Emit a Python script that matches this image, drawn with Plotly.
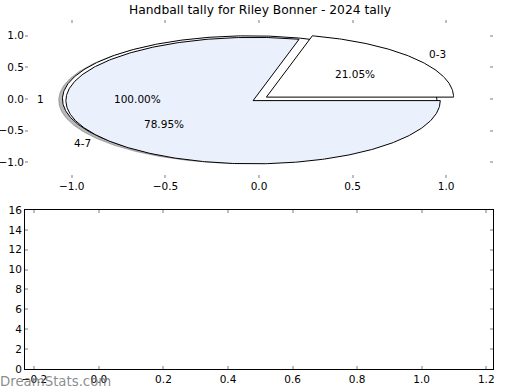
import numpy as np
import plotly.graph_objects as go

# ---- data ----
title_text = "Handball tally for Riley Bonner - 2024 tally"
total_labels = ["1"]
total_values = [1]
group_labels = ["0-3", "4-7"]
group_values = [4, 15]
bar_categories = []
bar_values = []
pie_ticks = [-1.0, -0.5, 0.0, 0.5, 1.0]
bottom_xticks = [-0.2, 0.0, 0.2, 0.4, 0.6, 0.8, 1.0, 1.2]
bottom_yticks = [0, 2, 4, 6, 8, 10, 12, 14, 16]
watermark = "DreamStats.com"

# ---- styles ----
total_explode = [0.05]
group_explode = [0.05, 0.04]
total_colors = ["white"]
group_colors = ["white", "rgb(234,240,252)"]
FONT = "DejaVu Sans"
TICKC = "#bdbdbd"

fig = go.Figure()
annotations = []


def arc_pts(cx, cy, r, t1, t2, n):
    th = np.radians(np.linspace(t1, t2, n))
    return cx + r * np.cos(th), cy + r * np.sin(th)


def draw_pie(values, labels, explode, colors, shadow=False):
    vals = np.array(values, dtype=float)
    fr = vals / vals.sum()
    theta1 = 0.0
    for f, lab, ex, col in zip(fr, labels, explode, colors):
        theta2 = theta1 + 360.0 * f
        mid = np.radians((theta1 + theta2) / 2)
        cx, cy = ex * np.cos(mid), ex * np.sin(mid)
        n = max(int(abs(theta2 - theta1) * 1.5), 20)
        ax_, ay_ = arc_pts(cx, cy, 1.0, theta1, theta2, n)
        if f >= 0.9999:
            xs, ys = list(ax_), list(ay_)
        else:
            xs = [cx] + list(ax_) + [cx]
            ys = [cy] + list(ay_) + [cy]
        if shadow:
            fig.add_trace(go.Scatter(
                x=[v - 0.02 for v in xs], y=[v - 0.02 for v in ys],
                mode="lines", fill="toself", fillcolor="rgba(77,77,77,0.4)",
                line=dict(color="rgba(77,77,77,0.4)", width=1),
                hoverinfo="skip", showlegend=False, xaxis="x", yaxis="y"))
        fig.add_trace(go.Scatter(
            x=xs, y=ys, mode="lines", fill="toself", fillcolor=col,
            line=dict(color="black", width=1), hoverinfo="skip",
            showlegend=False, xaxis="x", yaxis="y"))
        lx, ly = cx + 1.1 * np.cos(mid), cy + 1.1 * np.sin(mid)
        right = lx > 0
        annotations.append(dict(
            x=lx, y=ly, xref="x", yref="y", text=lab, showarrow=False,
            xanchor="left" if right else "right", yanchor="middle",
            borderpad=0, xshift=-1 if right else 1,
            font=dict(family=FONT, size=10.5, color="black")))
        px_, py_ = cx + 0.6 * np.cos(mid), cy + 0.6 * np.sin(mid)
        annotations.append(dict(
            x=px_, y=py_, xref="x", yref="y", text="%.2f%%" % (100 * f),
            showarrow=False, xanchor="center", yanchor="middle",
            font=dict(family=FONT, size=10.5, color="black")))
        theta1 = theta2


draw_pie(total_values, total_labels, total_explode, total_colors, shadow=True)
draw_pie(group_values, group_labels, group_explode, group_colors)

fig.add_trace(go.Bar(x=bar_categories, y=bar_values, xaxis="x2", yaxis="y2",
                     showlegend=False))

annotations.append(dict(
    x=0, y=-0.036, xref="paper", yref="paper", text=watermark, showarrow=False,
    xanchor="left", yanchor="middle", xshift=-26, borderpad=0,
    font=dict(family=FONT, size=13.3, color="rgba(110,110,110,0.8)")))

tickfont = dict(family=FONT, size=10.5, color="black")
common = dict(showgrid=False, zeroline=False, ticks="inside", ticklen=3,
              tickwidth=1.5, tickcolor=TICKC, tickfont=tickfont,
              automargin=False)

fig.update_layout(
    width=520, height=390,
    margin=dict(l=25, r=27, t=20, b=21),
    paper_bgcolor="white", plot_bgcolor="white",
    title=dict(text=title_text, x=0.5, xanchor="center", y=0.975,
               yanchor="middle", automargin=False,
               font=dict(family=FONT, size=12.3, color="black")),
    xaxis=dict(domain=[0, 1], range=[-1.25, 1.25], tickvals=pie_ticks,
               tickformat=".1f", showline=False, mirror="ticks", anchor="y",
               **common),
    yaxis=dict(domain=[0.547, 1], range=[-1.25, 1.25], tickvals=pie_ticks,
               tickformat=".1f", showline=False, mirror="ticks", anchor="x",
               **common),
    xaxis2=dict(domain=[0, 1], range=[-0.229, 1.221], tickvals=bottom_xticks,
                tickformat=".1f", showline=True, linecolor="black", linewidth=1,
                mirror="ticks", anchor="y2", **common),
    yaxis2=dict(domain=[0, 0.4556], range=[0, 16], tickvals=bottom_yticks,
                showline=True, linecolor="black", linewidth=1, mirror="ticks",
                anchor="x2", **common),
    annotations=annotations,
)

fig.write_html("out.html",
               config={"displayModeBar": False},
               post_script="document.body.style.margin='0';"
                           "document.body.style.overflow='hidden';")
